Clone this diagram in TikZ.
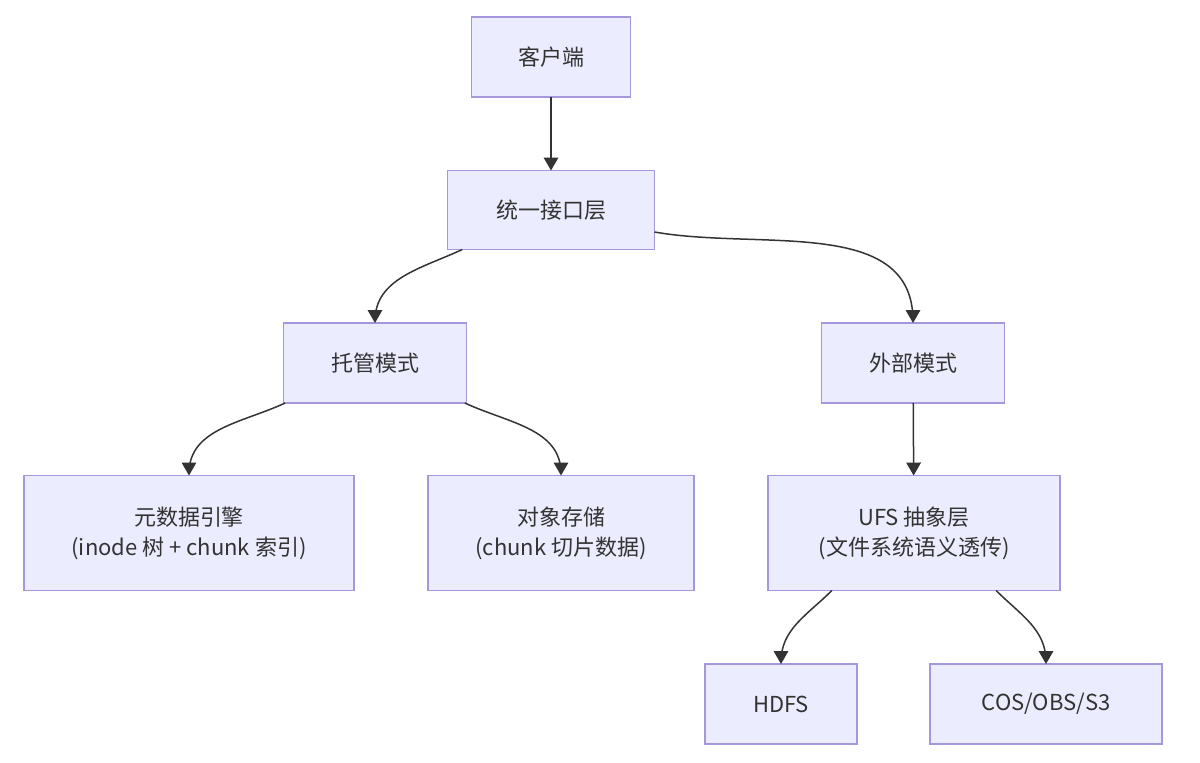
\documentclass[tikz,border=0pt]{standalone}
\usepackage{fontspec}
\setmainfont{Noto Sans CJK SC}
\usepackage{tikz}
\usetikzlibrary{arrows}
\definecolor{boxfill}{HTML}{ECECFF}
\definecolor{boxline}{HTML}{A696DC}
\definecolor{ink}{HTML}{333333}

\begin{document}
\begin{tikzpicture}[x=0.5pt,y=0.5pt,->,>=triangle 60,line width=0.75pt,
  main node/.style={rectangle,fill=boxfill,draw=boxline,text=ink,align=center,
    inner sep=0pt,outer sep=0pt,font=\fontsize{11pt}{15pt}\selectfont}]

  \useasboundingbox (0,0) rectangle (1200,762);

  \node[main node,minimum width=79.5pt,minimum height=40pt] (cli) at (551,705) {客户端};
  \node[main node,minimum width=103.5pt,minimum height=39.5pt] (uni) at (551,552) {统一接口层};
  \node[main node,minimum width=91.5pt,minimum height=40pt] (tg) at (375,399) {托管模式};
  \node[main node,minimum width=91.5pt,minimum height=40pt] (ext) at (913,399) {外部模式};
  \node[main node,minimum width=165pt,minimum height=57.5pt] (meta) at (189,229) {元数据引擎\\(inode 树 + chunk 索引)};
  \node[main node,minimum width=133pt,minimum height=57.5pt] (obj) at (561,229) {对象存储\\(chunk 切片数据)};
  \node[main node,minimum width=146pt,minimum height=57.5pt] (ufs) at (914,229) {UFS 抽象层\\(文件系统语义透传)};
  \node[main node,minimum width=76pt,minimum height=40pt] (hdfs) at (781,58) {HDFS};
  \node[main node,minimum width=116pt,minimum height=40pt] (cos) at (1046,58) {COS/OBS/S3};

  \path[color=ink]
    (cli) edge (uni)
    (uni.204) edge[out=205,in=90] (tg)
    (uni.348) edge[out=350,in=90] (ext)
    (tg.204) edge[out=205,in=90] (meta)
    (tg.336) edge[out=335,in=90] (obj)
    (ext) edge (ufs)
    (ufs.215) edge[out=225,in=90] (hdfs)
    (ufs.325) edge[out=315,in=90] (cos) ;

\end{tikzpicture}
\end{document}
